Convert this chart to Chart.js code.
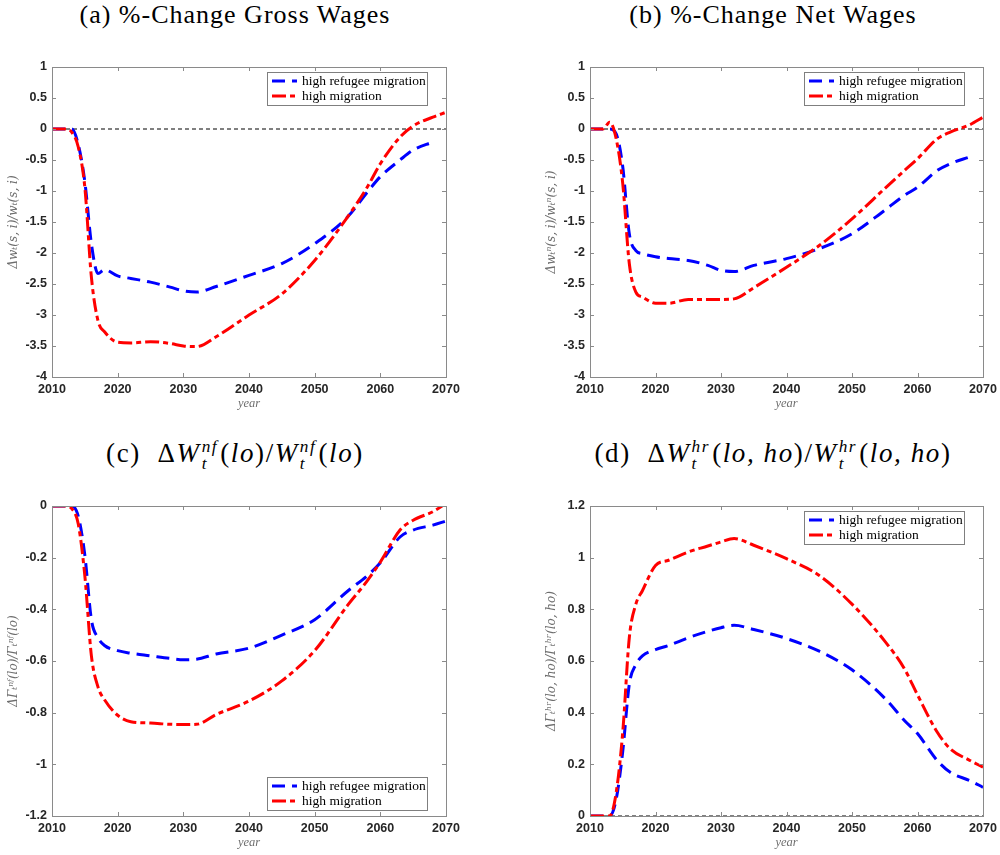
<!DOCTYPE html>
<html>
<head>
<meta charset="utf-8">
<script src="https://cdn.jsdelivr.net/npm/chart.js@4.4.0/dist/chart.umd.min.js"></script>
<style>
  html, body { margin: 0; padding: 0; background: #fff; overflow: hidden; }
  body { width: 1000px; height: 855px; position: relative; }
  canvas { position: absolute; }
  .ttl {
    position: absolute; width: 500px; text-align: center; white-space: nowrap;
    font-family: "Liberation Serif", serif; font-size: 26px; line-height: 30px; color: #000;
    letter-spacing: 1px;
  }
  .ttl.math { font-size: 27px; letter-spacing: 1.6px; }
  .m { font-style: italic; }
  .ss {
    display: inline-block; vertical-align: -0.42em; font-size: 0.64em; line-height: 1;
    font-style: italic; text-align: left; margin: 0 2px 0 1px;
  }
  .ss span { display: block; }
</style>
</head>
<body>

<div class="ttl" style="left:-15px;top:0">(a) %-Change Gross Wages</div>
<div class="ttl" style="left:523px;top:0">(b) %-Change Net Wages</div>
<div class="ttl math" style="left:-15px;top:438px">(c)&nbsp; Δ<span class="m">W</span><span class="ss"><span>nf</span><span>t</span></span>(<span class="m">lo</span>)/<span class="m">W</span><span class="ss"><span>nf</span><span>t</span></span>(<span class="m">lo</span>)</div>
<div class="ttl math" style="left:523px;top:438px">(d)&nbsp; Δ<span class="m">W</span><span class="ss"><span>hr</span><span>t</span></span>(<span class="m">lo, ho</span>)/<span class="m">W</span><span class="ss"><span>hr</span><span>t</span></span>(<span class="m">lo, ho</span>)</div>

<canvas id="gross" width="500" height="377" style="left:0;top:40px"></canvas>
<canvas id="net" width="500" height="377" style="left:500px;top:40px"></canvas>
<canvas id="nf" width="500" height="376" style="left:0;top:480px"></canvas>
<canvas id="hr" width="500" height="376" style="left:500px;top:480px"></canvas>

<script>
// simulation years shared by every series
const years = [2010, 2012, 2013, 2014, 2015, 2016, 2017, 2018, 2020, 2022, 2025, 2028, 2030,
  2032, 2035, 2040, 2045, 2050, 2055, 2058, 2060, 2063, 2065, 2068, 2070];

// (a) gross wages, % change
const grossRefugee = [0, 0, 0, -0.25, -0.85, -1.85, -2.33, -2.27, -2.37, -2.41, -2.47, -2.55, -2.61,
  -2.63, -2.54, -2.36, -2.17, -1.85, -1.42, -1.02, -0.77, -0.5, -0.34, -0.21, null];
const grossHigh = [0, 0, -0.05, -0.29, -0.94, -2.39, -3.09, -3.27, -3.44, -3.45, -3.43, -3.46, -3.5,
  -3.51, -3.35, -3.0, -2.66, -2.12, -1.42, -0.94, -0.56, -0.13, 0.05, 0.19, 0.27];

// (b) net wages, % change
const netRefugee = [0, 0, 0, -0.08, -0.61, -1.69, -1.96, -2.01, -2.06, -2.09, -2.12, -2.2, -2.28,
  -2.3, -2.2, -2.09, -1.93, -1.69, -1.31, -1.07, -0.94, -0.67, -0.56, -0.45, null];
const netHigh = [0, 0, 0.11, -0.16, -0.88, -2.17, -2.63, -2.71, -2.81, -2.81, -2.75, -2.75, -2.75,
  -2.74, -2.56, -2.23, -1.88, -1.45, -0.96, -0.67, -0.48, -0.16, -0.05, 0.07, 0.19];

// (c) welfare, natives without foreign background
const nfRefugee = [0, 0, 0, -0.04, -0.19, -0.44, -0.51, -0.54, -0.56, -0.57, -0.58, -0.59, -0.595,
  -0.593, -0.573, -0.55, -0.5, -0.44, -0.33, -0.27, -0.22, -0.12, -0.093, -0.074, -0.058];
const nfHigh = [0, 0, -0.01, -0.07, -0.27, -0.58, -0.7, -0.75, -0.81, -0.835, -0.84, -0.845, -0.846,
  -0.845, -0.807, -0.755, -0.677, -0.56, -0.385, -0.29, -0.217, -0.093, -0.055, -0.022, 0.01];

// (d) welfare, high-refugee group
const hrRefugee = [0, 0, 0, 0.065, 0.25, 0.51, 0.586, 0.62, 0.644, 0.66, 0.69, 0.715, 0.729,
  0.738, 0.722, 0.687, 0.638, 0.566, 0.456, 0.37, 0.319, 0.215, 0.169, 0.137, 0.111];
const hrHigh = [0, 0, 0, 0.091, 0.325, 0.69, 0.82, 0.872, 0.97, 0.99, 1.022, 1.045, 1.061,
  1.074, 1.048, 0.996, 0.931, 0.82, 0.677, 0.57, 0.469, 0.325, 0.26, 0.215, 0.189];

const xTicks = [2010, 2020, 2030, 2040, 2050, 2060, 2070];
const wageTicks = [1, 0.5, 0, -0.5, -1, -1.5, -2, -2.5, -3, -3.5, -4];
const nfTicks = [0, -0.2, -0.4, -0.6, -0.8, -1, -1.2];
const hrTicks = [0, 0.2, 0.4, 0.6, 0.8, 1, 1.2];

const seriesNames = ['high refugee migration', 'high migration'];

const BLUE = '#0000ff';
const RED = '#ff0000';
const AXIS = '#8a8a8a';
const TICK_TEXT = '#262626';
const TICK_FONT_STR = 'bold 12.5px "Liberation Sans", Arial, sans-serif';

const pairs = (vals) => years.map((x, i) => ({ x, y: vals[i] }));

// MATLAB-style box with inward ticks on all four sides, tick labels drawn here too
const boxPlugin = {
  id: 'box',
  afterDatasetsDraw(chart) {
    const { ctx, chartArea: a, scales } = chart;
    ctx.save();
    ctx.strokeStyle = AXIS;
    ctx.lineWidth = 1;
    ctx.beginPath();
    scales.x.ticks.forEach(t => {
      const px = Math.round(scales.x.getPixelForValue(t.value)) + 0.5;
      ctx.moveTo(px, a.bottom); ctx.lineTo(px, a.bottom - 4);
      ctx.moveTo(px, a.top); ctx.lineTo(px, a.top + 4);
    });
    scales.y.ticks.forEach(t => {
      const py = Math.round(scales.y.getPixelForValue(t.value)) + 0.5;
      ctx.moveTo(a.left, py); ctx.lineTo(a.left + 4, py);
      ctx.moveTo(a.right, py); ctx.lineTo(a.right - 4, py);
    });
    ctx.stroke();
    ctx.strokeRect(Math.round(a.left) + 0.5, Math.round(a.top) + 0.5,
      Math.round(a.right - a.left), Math.round(a.bottom - a.top));

    ctx.fillStyle = TICK_TEXT;
    ctx.font = TICK_FONT_STR;
    ctx.textAlign = 'center';
    ctx.textBaseline = 'top';
    scales.x.ticks.forEach(t => {
      ctx.fillText(String(t.value), scales.x.getPixelForValue(t.value), a.bottom + 6);
    });
    ctx.textAlign = 'right';
    ctx.textBaseline = 'middle';
    scales.y.ticks.forEach(t => {
      ctx.fillText(String(t.value), a.left - 5, scales.y.getPixelForValue(t.value));
    });
    ctx.restore();
  }
};

// legend box drawn inside the axes
const legendPlugin = {
  id: 'boxLegend',
  afterDraw(chart, args, opts) {
    const { ctx, chartArea: a } = chart;
    const w = 160, h = 33;
    const x = a.right - 19 - w;
    const y = opts.where === 'bottom' ? a.bottom - 6 - h : a.top + 5;
    ctx.save();
    ctx.fillStyle = '#fff';
    ctx.fillRect(x, y, w, h);
    ctx.strokeStyle = '#7f7f7f';
    ctx.lineWidth = 1;
    ctx.strokeRect(Math.round(x) + 0.5, Math.round(y) + 0.5, w, h);
    ctx.font = '13.5px "Liberation Serif", serif';
    ctx.textBaseline = 'middle';
    [0, 1].forEach(i => {
      const ds = chart.data.datasets[i];
      const ly = y + 9 + i * 15;
      ctx.strokeStyle = ds.borderColor;
      ctx.lineWidth = 3;
      ctx.setLineDash(ds.borderDash);
      ctx.beginPath();
      ctx.moveTo(x + 5, ly);
      ctx.lineTo(x + 30, ly);
      ctx.stroke();
      ctx.setLineDash([]);
      ctx.fillStyle = '#000';
      ctx.fillText(ds.label, x + 35, ly);
    });
    ctx.restore();
  }
};

function makePanel(id, cfg) {
  return new Chart(document.getElementById(id), {
    type: 'line',
    data: {
      datasets: [{
        label: seriesNames[0],
        data: pairs(cfg.refugee),
        borderColor: BLUE,
        borderDash: [13, 7],
        order: 1
      }, {
        label: seriesNames[1],
        data: pairs(cfg.high),
        borderColor: RED,
        borderDash: [14, 4, 5, 4],
        order: 0
      }, {
        label: 'zero',
        data: [{ x: 2010, y: 0 }, { x: 2070, y: 0 }],
        borderColor: '#000',
        borderWidth: 1,
        borderDash: [4, 3],
        order: 2
      }]
    },
    options: {
      responsive: false,
      animation: false,
      devicePixelRatio: 1,
      layout: { padding: { left: cfg.padLeft, right: cfg.padRight, top: cfg.padTop, bottom: 0 } },
      plugins: {
        legend: { display: false },
        tooltip: { enabled: false },
        boxLegend: { where: cfg.legend }
      },
      elements: {
        line: { borderWidth: 3, borderCapStyle: 'butt', cubicInterpolationMode: 'monotone' },
        point: { radius: 0 }
      },
      scales: {
        x: {
          type: 'linear',
          min: 2010,
          max: 2070,
          afterBuildTicks: (s) => { s.ticks = xTicks.map(v => ({ value: v })); },
          afterFit: (s) => { s.height = 40; },
          grid: { display: false },
          border: { display: false },
          ticks: { display: false },
          title: {
            display: true,
            text: 'year',
            color: '#6e6e6e',
            padding: { top: 0, bottom: 6 },
            font: { family: '"Liberation Serif", serif', size: 12.5, style: 'italic' }
          }
        },
        y: {
          min: cfg.min,
          max: cfg.max,
          afterBuildTicks: (s) => { s.ticks = cfg.ticks.map(v => ({ value: v })); },
          afterFit: (s) => { s.width = 52; },
          grid: { display: false },
          border: { display: false },
          ticks: { display: false },
          title: {
            display: true,
            text: cfg.yTitle,
            color: '#6e6e6e',
            padding: { top: 7, bottom: 0 },
            font: { family: '"DejaVu Serif", serif', size: 12, style: 'italic' }
          }
        }
      }
    },
    plugins: [boxPlugin, legendPlugin]
  });
}

makePanel('gross', {
  refugee: grossRefugee, high: grossHigh, ticks: wageTicks, min: -4, max: 1,
  padLeft: 0, padRight: 54, padTop: 27, legend: 'top',
  yTitle: 'Δwₜ(s, i)/wₜ(s, i)'
});
makePanel('net', {
  refugee: netRefugee, high: netHigh, ticks: wageTicks, min: -4, max: 1,
  padLeft: 38, padRight: 17, padTop: 27, legend: 'top',
  yTitle: 'Δwₜⁿ(s, i)/wₜⁿ(s, i)'
});
makePanel('nf', {
  refugee: nfRefugee, high: nfHigh, ticks: nfTicks, min: -1.2, max: 0,
  padLeft: 0, padRight: 54, padTop: 26, legend: 'bottom',
  yTitle: 'ΔΓₜⁿᶠ(lo)/Γₜⁿᶠ(lo)'
});
makePanel('hr', {
  refugee: hrRefugee, high: hrHigh, ticks: hrTicks, min: 0, max: 1.2,
  padLeft: 38, padRight: 17, padTop: 26, legend: 'top',
  yTitle: 'ΔΓₜʰʳ(lo, ho)/Γₜʰʳ(lo, ho)'
});
</script>
</body>
</html>
